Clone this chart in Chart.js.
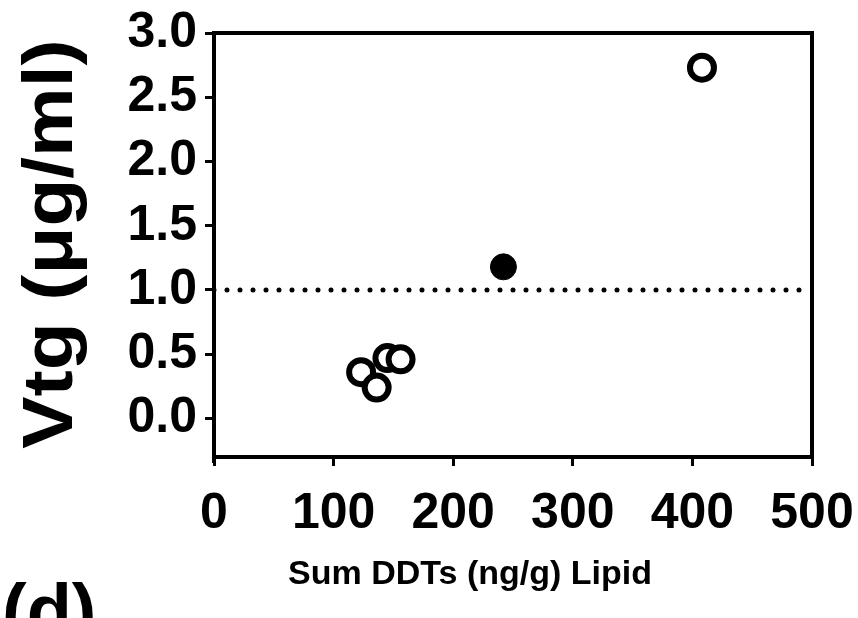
<!DOCTYPE html>
<html>
<head>
<meta charset="utf-8">
<script src="https://cdn.jsdelivr.net/npm/chart.js@4.4.1/dist/chart.umd.min.js"></script>
<style>
  html, body { margin: 0; padding: 0; background: #fff; }
  #grafica { display: block; }
</style>
</head>
<body>
<canvas id="grafica" width="858" height="618"></canvas>
<script>
// datos
const abiertosX = [123, 136, 145, 156, 408];
const abiertosY = [0.36, 0.24, 0.47, 0.46, 2.73];
const llenosX = [242];
const llenosY = [1.18];
const umbral = 1.0;
const xTicks = [0, 100, 200, 300, 400, 500];
const yTicks = [0, 0.5, 1.0, 1.5, 2.0, 2.5, 3.0];

const fuente = '"Liberation Sans", Arial, sans-serif';

const puntosAbiertos = abiertosX.map((x, i) => ({ x: x, y: abiertosY[i] }));
const puntosLlenos = llenosX.map((x, i) => ({ x: x, y: llenosY[i] }));
const lineaUmbral = [
  { x: xTicks[0], y: umbral },
  { x: xTicks[xTicks.length - 1], y: umbral },
];

// marco arriba y a la derecha + textos
const marco = {
  id: "marco",
  afterDraw(chart) {
    const ctx = chart.ctx;
    const a = chart.chartArea;
    ctx.save();
    ctx.strokeStyle = "#000";
    ctx.lineWidth = 4;
    ctx.beginPath();
    ctx.moveTo(a.left, a.top);
    ctx.lineTo(a.right, a.top);
    ctx.lineTo(a.right, a.bottom);
    ctx.stroke();
    // el eje y baja un poco mas que el eje x
    ctx.beginPath();
    ctx.moveTo(a.left, a.bottom);
    ctx.lineTo(a.left, a.bottom + 6);
    ctx.stroke();

    ctx.fillStyle = "#000";
    ctx.textAlign = "center";
    ctx.textBaseline = "middle";
    ctx.font = "bold 34px " + fuente;
    ctx.fillText("Sum DDTs (ng/g) Lipid", 470, 575);

    // titulo eje y (un poco estirado como en la figura)
    ctx.save();
    ctx.translate(53, 244);
    ctx.rotate(-Math.PI / 2);
    ctx.scale(1.12, 1);
    ctx.font = "bold 70px " + fuente;
    ctx.fillText("Vtg (\u03bcg/ml)", 0, 0);
    ctx.restore();

    ctx.textAlign = "left";
    ctx.textBaseline = "alphabetic";
    ctx.font = "bold 74px " + fuente;
    ctx.fillText("(d)", 2, 636);
    ctx.restore();
  },
};

const data = {
  datasets: [
    {
      label: "umbral",
      type: "line",
      data: lineaUmbral,
      borderColor: "#000",
      borderWidth: 5,
      borderDash: [0, 13],
      borderCapStyle: "round",
      pointRadius: 0,
      order: 3,
    },
    {
      label: "abiertos",
      data: puntosAbiertos,
      pointRadius: 12,
      pointBorderWidth: 6,
      pointBackgroundColor: "#fff",
      pointBorderColor: "#000",
      order: 2,
    },
    {
      label: "llenos",
      data: puntosLlenos,
      pointRadius: 13,
      pointBorderWidth: 1,
      pointBackgroundColor: "#000",
      pointBorderColor: "#000",
      order: 1,
    },
  ],
};

const config = {
  type: "scatter",
  data,
  options: {
    responsive: false,
    animation: false,
    devicePixelRatio: 1,
    layout: { padding: { top: 33, right: 46, left: 0, bottom: 0 } },
    plugins: {
      legend: { display: false },
      tooltip: { enabled: false },
    },
    scales: {
      x: {
        type: "linear",
        min: 0,
        max: 500,
        afterFit: (s) => {
          s.height = 161;
          s.paddingLeft = 0;
          s.paddingRight = 0;
        },
        afterBuildTicks: (s) => { s.ticks = xTicks.map((v) => ({ value: v })); },
        border: { display: true, color: "#000", width: 4 },
        grid: { drawOnChartArea: false, color: "#000", lineWidth: 3, tickLength: 9 },
        ticks: {
          color: "#000",
          padding: 18,
          maxRotation: 0,
          font: { family: fuente, size: 50, weight: "bold" },
        },
      },
      y: {
        type: "linear",
        min: -0.3,
        max: 3.0,
        afterFit: (s) => {
          s.width = 214;
          s.paddingTop = 0;
          s.paddingBottom = 0;
        },
        afterBuildTicks: (s) => { s.ticks = yTicks.map((v) => ({ value: v })); },
        border: { display: true, color: "#000", width: 4 },
        grid: { drawOnChartArea: false, color: "#000", lineWidth: 3, tickLength: 9 },
        ticks: {
          color: "#000",
          padding: 8,
          font: { family: fuente, size: 50, weight: "bold" },
          callback: (v) => Number(v).toFixed(1),
        },
      },
    },
  },
  plugins: [marco],
};

var myChart = new Chart(document.getElementById("grafica"), config);
</script>
</body>
</html>
